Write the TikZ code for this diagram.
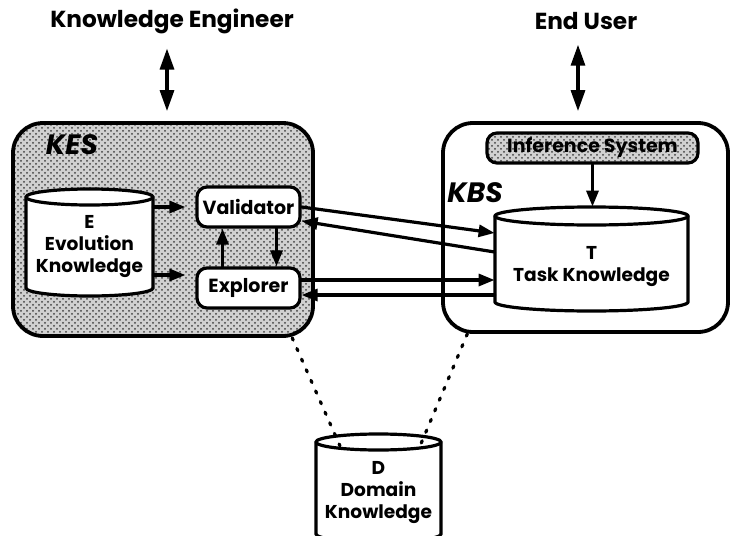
\documentclass[tikz,border=0pt]{standalone}
\usepackage{fontspec}
\setmainfont{Poppins}
\usetikzlibrary{positioning}
\usetikzlibrary{arrows.meta}
\usetikzlibrary{patterns}

\begin{document}
\begin{tikzpicture}
[x = 0.5pt, y = -0.5pt, line cap = round, font = \bfseries,
system/.style = {draw, line width = 1.9pt, rounded corners = 15pt, inner sep = 0pt},
shaded area/.style = {preaction = {fill = black!18}, pattern = crosshatch dots, pattern color = black!75},
system label/.style = {font = \bfseries\itshape\fontsize{14}{16}\selectfont},
actor/.style = {font = \bfseries\fontsize{11.6}{13}\selectfont},
module/.style = {draw, line width = 1.6pt, rounded corners = 5pt, inner sep = 0pt, font = \bfseries\fontsize{9.5}{11}\selectfont},
store/.style 2 args = {inner sep = 0pt, label = {[yshift = #2, align = center, font = \bfseries\fontsize{9.3}{11}\selectfont]center:{#1}}},
flow/.style = {-{Triangle[length = 8pt, width = 6pt]}, line width = 1.6pt},
both ways/.style = {{Triangle[length = 10.5pt, width = 7pt]}-{Triangle[length = 10.5pt, width = 7pt]}, line width = 1.6pt},
link/.style = {line width = 1.6pt, dash pattern = on 1.2pt off 4.6pt}]

\useasboundingbox (0, 0) rectangle (730, 536);

% the two systems
\node[system, shaded area, minimum width = 150pt, minimum height = 106.5pt] (kes) at (163, 229.5) {};
\node[system, fill = white, minimum width = 142.5pt, minimum height = 104.5pt] (kbs) at (585.5, 227.5) {};
\node[system label] (kes label) at (72, 145) {KES};
\node[system label] (kbs label) at (475, 193) {KBS};

\node[actor] (ke) at (172, 21) {Knowledge Engineer};
\node[actor] (eu) at (586, 21) {End User};

\node[module, shaded area, minimum width = 105.5pt, minimum height = 15pt] (inf) at (592.5, 148) {Inference System};

% knowledge bases
\foreach \cx/\w/\ya/\yb/\r in {89.5/63.5/197/288/8, 591.5/96.5/216/302/9, 378.5/62.5/442/534/8}
{
\draw[line width = 1.6pt, fill = white] (\cx-\w, \ya) -- (\cx-\w, \yb) arc [start angle = 180, end angle = 0, x radius = \w, y radius = \r] -- (\cx+\w, \ya) arc [start angle = 0, end angle = -180, x radius = \w, y radius = \r] -- cycle;
\draw[line width = 1.6pt] (\cx-\w, \ya) arc [start angle = 180, end angle = 0, x radius = \w, y radius = \r];
}

\node[store = {E\\Evolution\\Knowledge}{-2.25pt}, minimum width = 63.5pt, minimum height = 53.5pt] (E) at (89.5, 242.5) {};
\node[store = {T\\Task Knowledge}{-4pt}, minimum width = 96.5pt, minimum height = 52pt] (T) at (591.5, 259) {};
\node[store = {D\\Domain\\Knowledge}{-2.25pt}, minimum width = 62.5pt, minimum height = 54pt] (D) at (378.5, 488) {};

\node[module, fill = white, minimum width = 51.5pt, minimum height = 20pt] (val) at (248.5, 207) {Validator};
\node[module, fill = white, minimum width = 51.5pt, minimum height = 20pt] (xplr) at (248.5, 288) {Explorer};

% users
\draw[both ways, shorten <= 4pt, shorten >= 5pt] ([xshift = -2.5pt]ke.south) -- ([xshift = -2.5pt]ke.south |- kes.north);
\draw[both ways, shorten <= 4pt, shorten >= 5pt] ([xshift = -4pt]eu.south) -- ([xshift = -4pt]eu.south |- kbs.north);

% inside KES
\draw[flow, shorten >= 5pt] (val.west -| E.east) -- (val.west);
\draw[flow, shorten >= 5pt] ([yshift = 6.5pt]xplr.west -| E.east) -- ([yshift = 6.5pt]xplr.west);
\draw[flow] ([xshift = -13pt]xplr.north) -- ([xshift = -13pt]val.south);
\draw[flow] ([xshift = 14pt]val.south) -- ([xshift = 14pt]xplr.north);

% between the systems
\draw[flow] (inf.south) -- (inf.south |- T.north);
\draw[flow] (val.east) -- ([yshift = 13pt]T.west);
\draw[flow] ([yshift = 3.5pt]T.west) -- ([yshift = -7pt]val.east);
\draw[flow] ([yshift = 4pt]xplr.east) -- ([yshift = -10.5pt]T.west);
\draw[flow] ([yshift = -18pt]T.west) -- ([yshift = -3.5pt]xplr.east);

\coordinate (d left) at (340, 446);
\coordinate (d right) at (420, 446);
\draw[link] (kes.-40) -- (d left);
\draw[link] (kbs.-138) -- (d right);
\end{tikzpicture}
\end{document}
